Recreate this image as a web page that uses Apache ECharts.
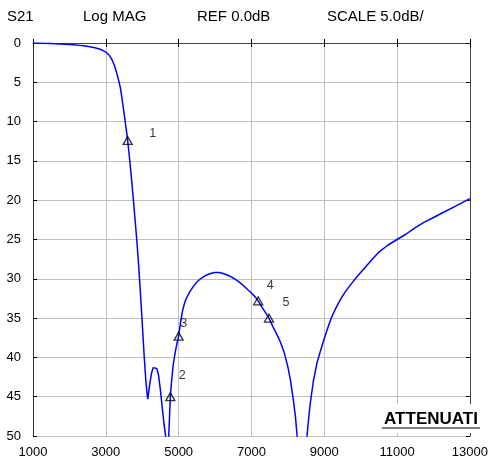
<!DOCTYPE html>
<html>
<head>
<meta charset="utf-8">
<script src="https://cdn.jsdelivr.net/npm/echarts@6/dist/echarts.min.js"></script>
<style>
html,body{margin:0;padding:0;background:#fff;}
#c{width:491px;height:459px;}
</style>
</head>
<body>
<div id="c"></div>
<script>
// ---- data ----
var freq = [1000,1250,1500,1750,2000,2200,2400,2600,2700,2800,2900,3000,3050,3100,3150,3200,3250,3300,3350,3400,3450,3500,3550,3600,3650,3700,3750,3800,3851,3900,3950,4000,4050,4100,4130,4152,4200,4250,4300,4354,4400,4450,4500,4550,4600,4650,4690,4726,4750,4772,4800,4850,4900,4950,5000,5050,5100,5150,5200,5300,5400,5500,5600,5700,5800,5900,6000,6100,6200,6300,6400,6500,6600,6700,6800,6900,7000,7100,7185,7300,7400,7480,7600,7700,7800,7900,8000,8070,8150,8207,8252,8390,8525,8570,8617,8700,8800,8900,9000,9100,9200,9300,9400,9500,9600,9700,9800,9900,10000,10150,10300,10500,10750,11000,11250,11500,11750,12000,12250,12500,12750,13000];
var s21dB = [0.0,0.03,0.07,0.12,0.2,0.27,0.36,0.5,0.6,0.73,0.9,1.15,1.35,1.6,1.95,2.45,3.05,3.85,4.7,5.7,7.2,8.9,10.6,12.4,14.6,17.0,19.6,22.3,25.1,28.2,31.8,35.6,39.6,43.0,44.5,45.3,43.6,42.1,41.3,41.1,41.4,42.3,44.2,46.4,48.5,50.3,60,50.3,47.5,45.0,43.3,41.0,39.5,38.3,37.3,35.6,34.2,33.3,32.6,31.7,31.0,30.4,30.0,29.7,29.45,29.3,29.2,29.2,29.3,29.45,29.65,29.9,30.2,30.55,30.95,31.4,31.8,32.3,32.8,33.7,34.4,35.0,36.2,37.1,38.1,39.4,41.2,42.9,45.4,47.5,49.9,65,50,47.8,45.8,43.0,40.7,39.1,37.6,36.2,34.9,33.9,33.0,32.2,31.5,30.9,30.3,29.7,29.2,28.4,27.6,26.6,25.7,25.0,24.3,23.5,22.8,22.2,21.6,21.0,20.4,19.8];
var markerNames = ['1','2','3','4','5'];
var markerFreq = [3600,4772,5000,7185,7480];
var markerdB = [12.4,45.0,37.3,32.8,35.0];
var xTicks = [1000,3000,5000,7000,9000,11000,13000];
var yTicks = [0,5,10,15,20,25,30,35,40,45,50];
var headerTexts = ['S21','Log MAG','REF 0.0dB','SCALE 5.0dB/'];
var cornerText = 'ATTENUATI';

// ---- styles (not data) ----
var headerX = [7,83,197,327];
var markerLabelOffsets = [[25,-7],[12,-21],[5,-13],[12,-15],[17,-16]];

var curve = freq.map(function(f,i){return [f, s21dB[i]];});
var markers = markerFreq.map(function(f,i){
  return {name: markerNames[i], value:[f, markerdB[i]],
    label:{offset: markerLabelOffsets[i]}};
});

var chart = echarts.init(document.getElementById('c'));
var font = 'Arial, "Liberation Sans", sans-serif';
var axisCommon = {
  type:'value',
  splitLine:{show:true,lineStyle:{color:'#c0c0c0',width:1}},
  axisTick:{show:true,inside:true,length:4,lineStyle:{color:'#000'}},
};
var graphics = headerTexts.map(function(t,i){
  return {type:'text', left:headerX[i], top:9, z:100,
    style:{text:t, font:'15px ' + font, fill:'#000'}};
});
graphics.push({type:'rect', shape:{x:378,y:404,width:110,height:29}, style:{fill:'#fff'}, z:100});
graphics.push({type:'text', x:431, y:419, z:101,
  style:{text:cornerText, font:'bold 17px ' + font, fill:'#000', textAlign:'center', textVerticalAlign:'middle'}});
graphics.push({type:'line', shape:{x1:382,y1:428,x2:480,y2:428}, style:{stroke:'#000',lineWidth:1.2}, z:101});

chart.setOption({
  animation:false,
  backgroundColor:'#fff',
  grid:{left:33,right:19,top:43,bottom:23},
  xAxis:[
    Object.assign({}, axisCommon, {
      min:xTicks[0], max:xTicks[xTicks.length-1], interval:2000, position:'bottom',
      axisLine:{show:true,lineStyle:{color:'#000',width:1}},
      axisLabel:{color:'#000',fontSize:13,fontFamily:font,margin:10,
        formatter:function(v){return String(v);}}
    }),
    Object.assign({}, axisCommon, {
      min:xTicks[0], max:xTicks[xTicks.length-1], interval:2000, position:'top',
      axisLine:{show:true,lineStyle:{color:'#444',width:1}},
      axisLabel:{show:false}, splitLine:{show:false}
    })
  ],
  yAxis:[
    Object.assign({}, axisCommon, {
      min:yTicks[0], max:yTicks[yTicks.length-1], interval:5, inverse:true, position:'left',
      axisLine:{show:true,lineStyle:{color:'#333',width:1}},
      axisLabel:{color:'#000',fontSize:13,fontFamily:font,margin:12}
    }),
    Object.assign({}, axisCommon, {
      min:yTicks[0], max:yTicks[yTicks.length-1], interval:5, inverse:true, position:'right',
      axisLine:{show:true,lineStyle:{color:'#444',width:1}},
      axisLabel:{show:false}, splitLine:{show:false}
    })
  ],
  graphic: graphics,
  series:[
    {type:'line', data:curve, xAxisIndex:0, yAxisIndex:0, showSymbol:false, smooth:false, clip:true,
      lineStyle:{color:'#0000ff',width:1.5}, z:3},
    {type:'scatter', data:markers, xAxisIndex:0, yAxisIndex:0, symbol:'triangle', symbolSize:[9,8],
      itemStyle:{color:'rgba(255,255,255,0)',borderColor:'#000',borderWidth:1.3}, z:4,
      label:{show:true, position:'inside', formatter:'{b}', color:'#000', fontSize:12.5, fontFamily:font}}
  ]
});
</script>
</body>
</html>
